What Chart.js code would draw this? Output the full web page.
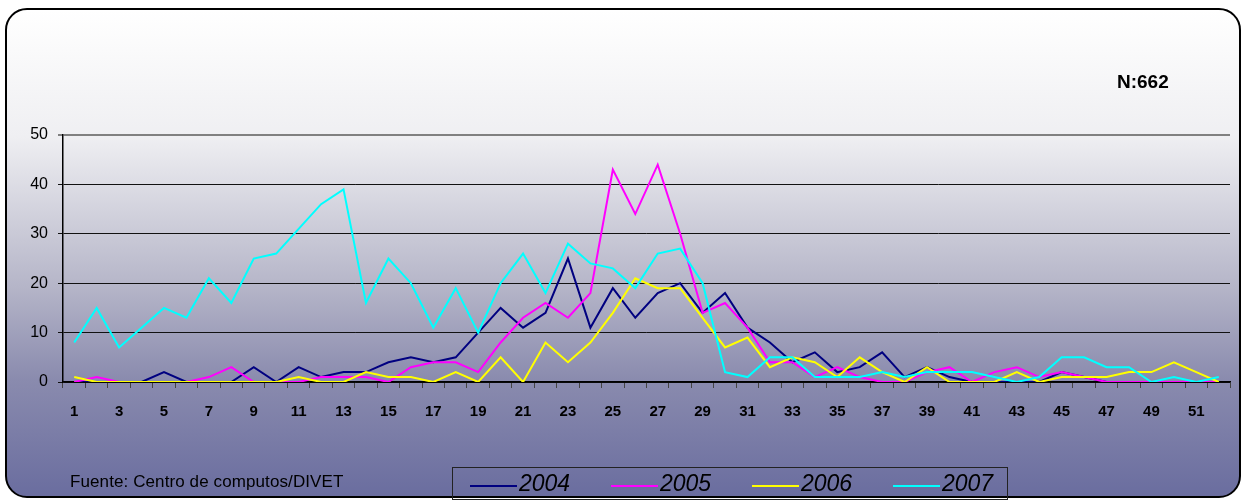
<!DOCTYPE html>
<html>
<head>
<meta charset="utf-8">
<script src="https://cdn.jsdelivr.net/npm/chart.js@4.4.1/dist/chart.umd.min.js"></script>
<style>
html, body { margin: 0; padding: 0; width: 1247px; height: 502px; overflow: hidden; background: #fff; }
#frame {
  position: absolute; left: 5px; top: 8px; width: 1232px; height: 486px;
  border: 2px solid #000; border-radius: 22px;
  background: linear-gradient(to bottom, #ffffff 0%, #efeff2 26%, #b5b5c8 57%, #8a8bae 76%, #6a6d9f 100%);
}
#wrap { position: absolute; left: 0; top: 0; width: 1247px; height: 502px; }
.txt { position: absolute; font-family: 'Liberation Sans', Arial, sans-serif; color: #000; white-space: nowrap; }
#n { left: 1117px; top: 71px; font-size: 19px; font-weight: bold; }
#src { left: 70px; top: 472px; font-size: 17px; letter-spacing: 0.1px; }
#legend { position: absolute; left: 452px; top: 467px; width: 554px; height: 31px; border: 1px solid #222; }
.item { position: absolute; top: 0; height: 31px; }
.item span.ln { position: absolute; top: 17px; width: 47px; height: 0; border-top: 2px solid; }
.item span.lb { position: absolute; left: 49px; top: 2px; font-family: 'Liberation Sans', Arial, sans-serif; font-style: italic; font-size: 23px; }
</style>
</head>
<body>
<div id="frame"></div>
<div id="wrap"><canvas id="myChart"></canvas></div>
<div class="txt" id="n">N:662</div>
<div class="txt" id="src">Fuente: Centro de computos/DIVET</div>
<div id="legend"></div>
<script>
var weeks = ['1','2','3','4','5','6','7','8','9','10','11','12','13','14','15','16','17','18','19','20',
             '21','22','23','24','25','26','27','28','29','30','31','32','33','34','35','36','37','38','39','40',
             '41','42','43','44','45','46','47','48','49','50','51','52'];

var years = ['2004', '2005', '2006', '2007'];

var cases2004 = [0,0,0,0,2,0,0,0,3,0,3,1,2,2,4,5,4,5,10,15,11,14,25,11,19,13,18,20,14,18,
                 11,8,4,6,2,3,6,1,3,1,0,0,0,0,2,1,0,0,0,0,0,0];
var cases2005 = [0,1,0,0,0,0,1,3,0,0,0,1,1,1,0,3,4,4,2,8,13,16,13,18,43,34,44,30,14,16,
                 11,4,4,1,3,1,0,0,2,3,0,2,3,1,2,1,0,0,0,0,0,0];
var cases2006 = [1,0,0,0,0,0,0,0,0,0,1,0,0,2,1,1,0,2,0,5,0,8,4,8,14,21,19,19,13,7,
                 9,3,5,4,1,5,2,0,3,0,0,0,2,0,1,1,1,2,2,4,2,0];
var cases2007 = [8,15,7,11,15,13,21,16,25,26,31,36,39,16,25,20,11,19,10,20,26,18,28,24,23,19,26,27,20,2,
                 1,5,5,1,1,1,2,1,2,2,2,1,0,1,5,5,3,3,0,1,0,1];

var yTicks = [0, 10, 20, 30, 40, 50];

var colors = ['#000080', '#ff00ff', '#ffff00', '#00ffff'];

window.onload = function() {
    Chart.defaults.font.family = "'Liberation Sans', Arial, sans-serif";
    Chart.defaults.color = '#000';

    var series = [cases2004, cases2005, cases2006, cases2007];
    var datasets = years.map(function(y, i) {
        return {
            label: y,
            data: series[i],
            borderColor: colors[i],
            backgroundColor: colors[i],
            borderWidth: 2,
            pointRadius: 0,
            tension: 0,
            fill: false,
            order: 4 - i
        };
    });

    var ctx = document.getElementById('myChart').getContext('2d');
    window.myChart = new Chart(ctx, {
        type: 'line',
        data: { labels: weeks, datasets: datasets },
        options: {
            responsive: true,
            maintainAspectRatio: false,
            animation: false,
            layout: { padding: { top: 135, right: 17, bottom: 80, left: 0 } },
            plugins: { legend: { display: false }, tooltip: { enabled: false } },
            scales: {
                x: {
                    offset: true,
                    grid: { display: true, offset: true, drawOnChartArea: false, drawTicks: true, tickLength: 6, color: '#444' },
                    border: { display: true, color: '#000', width: 1.5 },
                    ticks: {
                        autoSkip: false, maxRotation: 0, padding: 15,
                        font: { size: 15, weight: 'bold' },
                        callback: function(v, i) { return i % 2 === 0 ? this.getLabelForValue(v) : ''; }
                    },
                    afterFit: function(s) { s.height = 40; }
                },
                y: {
                    min: 0, max: 50,
                    afterBuildTicks: function(s) { s.ticks = yTicks.map(function(v) { return { value: v }; }); },
                    ticks: { padding: 10, font: { size: 16 } },
                    grid: {
                        color: function(c) { return c.tick && c.tick.value === 50 ? '#808080' : '#111'; },
                        lineWidth: function(c) { return c.tick && c.tick.value === 50 ? 2 : 1; },
                        tickLength: 5
                    },
                    border: { color: '#000', width: 1.5 },
                    afterFit: function(s) { s.width = 63; }
                }
            }
        }
    });

    // legend like the original box
    var lg = document.getElementById('legend');
    years.forEach(function(y, i) {
        var it = document.createElement('div');
        it.className = 'item';
        it.style.left = (17 + i * 141) + 'px';
        it.innerHTML = '<span class="ln" style="border-color:' + colors[i] + '"></span><span class="lb">' + y + '</span>';
        lg.appendChild(it);
    });
};
</script>
</body>
</html>
